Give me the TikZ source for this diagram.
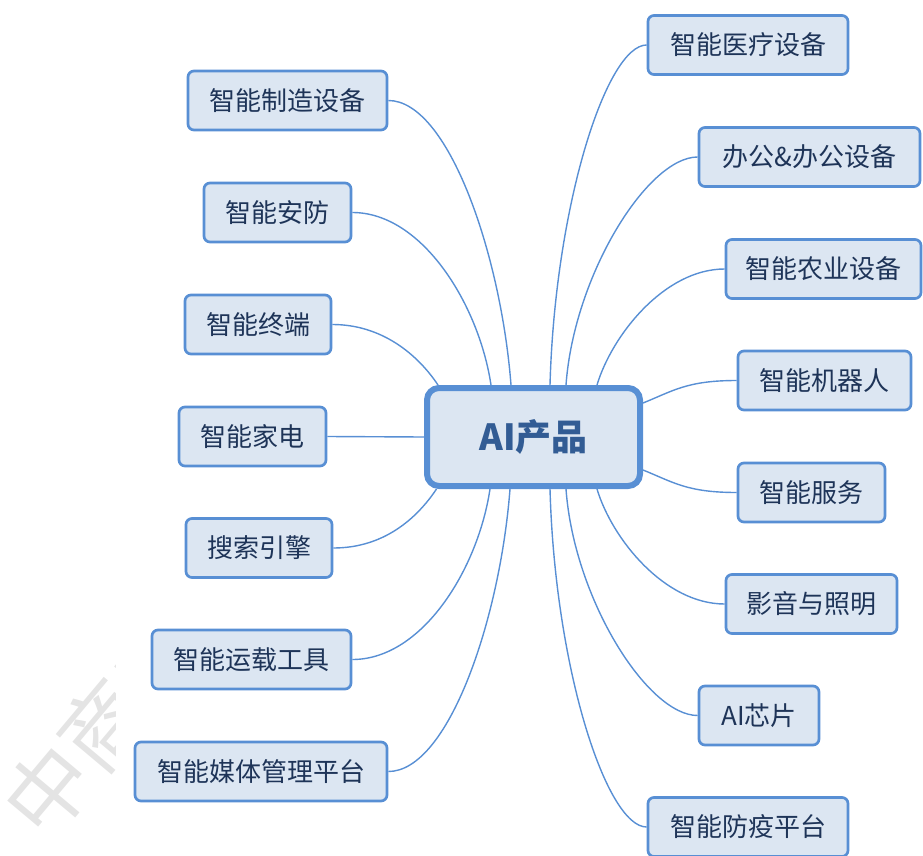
\documentclass[tikz,border=0pt]{standalone}
\usepackage{fontspec}
\setmainfont{Noto Sans CJK SC}
\usetikzlibrary{backgrounds}
\definecolor{bordercol}{RGB}{88,143,212}
\definecolor{fillcol}{RGB}{220,230,242}
\definecolor{textcol}{RGB}{30,52,88}
\definecolor{maincol}{RGB}{50,92,148}
\definecolor{wmcol}{RGB}{228,228,228}
\tikzset{
  child/.style={draw=bordercol, line width=2.7pt, fill=fillcol, rounded corners=6pt,
    minimum height=59pt, inner sep=0pt, text=textcol, font=\fontsize{26}{30}\selectfont},
  root/.style={draw=bordercol, line width=6pt, fill=fillcol, rounded corners=12pt,
    minimum width=213pt, minimum height=98pt, inner sep=0pt, text=maincol,
    font=\bfseries\fontsize{36}{42}\selectfont},
  link/.style={draw=bordercol, line width=1.4pt},
  wm/.style={text=wmcol, font=\fontsize{85}{90}\selectfont, rotate=50, inner sep=0pt}
}
\begin{document}
\begin{tikzpicture}[x=1pt,y=-1pt]
\useasboundingbox (0,0) rectangle (923,856);
% watermark
\begin{scope}
\clip (0,600) rectangle (115,856);
\node[wm, anchor=west] (wmk) at (21,823) {中商产业研究院};
\end{scope}
% root
\node[root] (c) at (533.5,437) {AI产品};
% left
\node[child, minimum width=199pt] (l1) at (287.5,100.5) {智能制造设备};
\node[child, minimum width=147pt] (l2) at (277.5,212.5) {智能安防};
\node[child, minimum width=146pt] (l3) at (258,324.5) {智能终端};
\node[child, minimum width=147pt] (l4) at (252.5,436.5) {智能家电};
\node[child, minimum width=146pt] (l5) at (259,548) {搜索引擎};
\node[child, minimum width=199pt] (l6) at (251.5,659.5) {智能运载工具};
\node[child, minimum width=252pt] (l7) at (261,771.5) {智能媒体管理平台};
% right
\node[child, minimum width=200pt] (r1) at (748,45) {智能医疗设备};
\node[child, minimum width=221pt] (r2) at (809.5,157) {办公\&办公设备};
\node[child, minimum width=195pt] (r3) at (823.5,269) {智能农业设备};
\node[child, minimum width=173pt] (r4) at (824.5,380.5) {智能机器人};
\node[child, minimum width=147pt] (r5) at (811.5,492.5) {智能服务};
\node[child, minimum width=171pt] (r6) at (811.5,604) {影音与照明};
\node[child, minimum width=120pt] (r7) at (759,715.5) {AI芯片};
\node[child, minimum width=200pt] (r8) at (748,827) {智能防疫平台};
\begin{pgfonlayer}{background}
% left links
\draw[link] (l1.east) .. controls +(60,0) and +(-10,-130) .. ([xshift=-22.5pt]c.north);
\draw[link] (l2.east) .. controls +(70,0) and +(-12,-80) .. ([xshift=-42.5pt]c.north);
\draw[link] (l3.east) .. controls +(50,0) and +(-20,-30) .. ([xshift=-95.5pt]c.north);
\draw[link] (l4.east) -- (c.west);
\draw[link] (l5.east) .. controls +(50,0) and +(-20,30) .. ([xshift=-97pt]c.south);
\draw[link] (l6.east) .. controls +(70,0) and +(-12,80) .. ([xshift=-43.5pt]c.south);
\draw[link] (l7.east) .. controls +(60,0) and +(-10,130) .. ([xshift=-23.5pt]c.south);
% right links
\draw[link] (r1.west) .. controls +(-40,0) and +(5,-180) .. ([xshift=16.5pt]c.north);
\draw[link] (r2.west) .. controls +(-50,0) and +(8,-110) .. ([xshift=32.5pt]c.north);
\draw[link] (r3.west) .. controls +(-60,0) and +(15,-50) .. ([xshift=63.5pt]c.north);
\draw[link] (r4.west) .. controls +(-50,0) and +(30,-12) .. ([yshift=34pt]c.east);
\draw[link] (r5.west) .. controls +(-50,0) and +(30,12) .. ([yshift=-33pt]c.east);
\draw[link] (r6.west) .. controls +(-60,0) and +(15,50) .. ([xshift=63.5pt]c.south);
\draw[link] (r7.west) .. controls +(-50,0) and +(8,110) .. ([xshift=32.5pt]c.south);
\draw[link] (r8.west) .. controls +(-40,0) and +(5,180) .. ([xshift=16.5pt]c.south);
\end{pgfonlayer}
\end{tikzpicture}
\end{document}
